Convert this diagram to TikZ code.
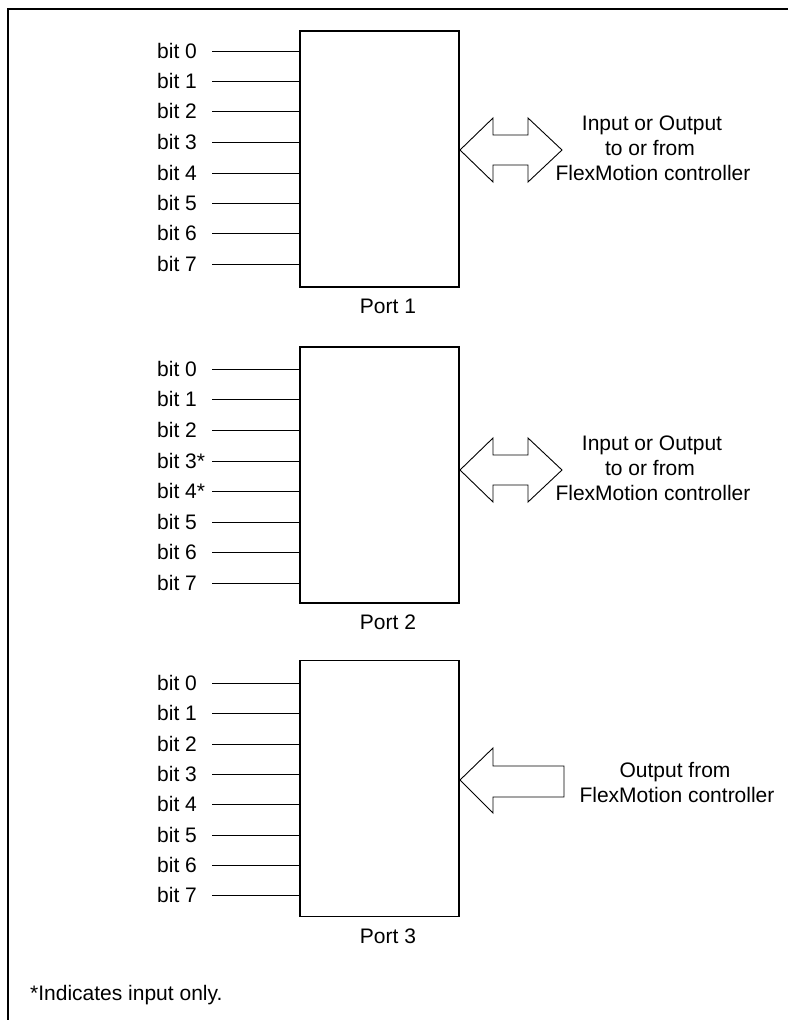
\documentclass[tikz,border=0pt]{standalone}
\usepackage{fontspec}
\setmainfont{Liberation Sans}
\begin{document}
\begin{tikzpicture}[x=1pt,y=-1pt,
  every node/.style={font=\fontsize{21}{25}\selectfont, inner sep=0pt},
  portbox/.style={draw, line width=1.3pt, minimum width=159pt, minimum height=256pt, inner sep=0pt},
  bitline/.style={line width=1pt},
  bitlabel/.style={anchor=base west},
  txt/.style={anchor=base},
  bigarrow/.style={draw, line width=0.9pt, line join=miter, fill=white},
  frameline/.style={line width=2.5pt}]
\useasboundingbox (0,0) rectangle (788,1020);
% frame
\coordinate (fTL) at (8,9);
\coordinate (fTR) at (788,9);
\coordinate (fBL) at (8,1020);
\draw[frameline] (fBL) -- (fTL) -- (fTR);

% boxes
\node[portbox] (p1) at (379.5,159) {};
\node[portbox] (p2) at (379.5,475) {};
\node[portbox] (p3) at (379.5,788.5) {};

% port labels
\node[txt] (pl1) at (388,313) {Port 1};
\node[txt] (pl2) at (388,629) {Port 2};
\node[txt] (pl3) at (388,943) {Port 3};

% bit rows
\foreach \i/\y in {0/51,1/81,2/111,3/142,4/173,5/203,6/233,7/264}{
  \coordinate (a\i) at (212,\y);
  \draw[bitline] (a\i) -- (a\i -| p1.west);
  \node[bitlabel] (la\i) at (157,\y+7) {bit \i};
}
\foreach \i/\y/\s in {0/369/,1/399/,2/430/,3/461/*,4/491/*,5/522/,6/552/,7/583/}{
  \coordinate (b\i) at (212,\y);
  \draw[bitline] (b\i) -- (b\i -| p2.west);
  \node[bitlabel] (lb\i) at (157,\y+7) {bit \i\s};
}
\foreach \i/\y in {0/683,1/713,2/744,3/774,4/804,5/835,6/865,7/895}{
  \coordinate (c\i) at (212,\y);
  \draw[bitline] (c\i) -- (c\i -| p3.west);
  \node[bitlabel] (lc\i) at (157,\y+7) {bit \i};
}

% double arrows
\foreach \n/\cy in {1/150,2/470}{
  \draw[bigarrow] (460,\cy) -- (493,\cy-32) -- (493,\cy-15) -- (528,\cy-15) -- (528,\cy-32)
     -- (562,\cy) -- (528,\cy+32) -- (528,\cy+15) -- (493,\cy+15) -- (493,\cy+32) -- cycle;
  \node[txt] (t\n a) at (652,\cy-20) {Input or Output};
  \node[txt] (t\n b) at (650,\cy+5) {to or from};
  \node[txt] (t\n c) at (653,\cy+30) {FlexMotion controller};
}
% single arrow
\draw[bigarrow] (460,780) -- (493,748) -- (493,766) -- (564,766) -- (564,797) -- (493,797) -- (493,813) -- cycle;
\node[txt] (t3a) at (675,777) {Output from};
\node[txt] (t3b) at (677,802) {FlexMotion controller};

% footnote
\node[anchor=base west] (fn) at (30,1000) {*Indicates input only.};
\end{tikzpicture}
\end{document}
